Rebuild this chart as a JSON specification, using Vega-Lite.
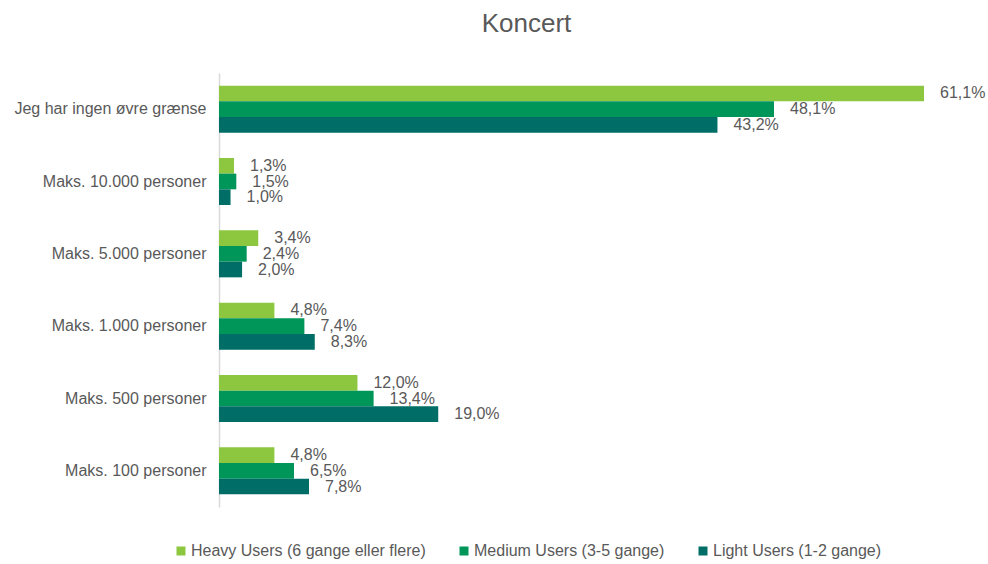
{
  "$schema": "https://vega.github.io/schema/vega-lite/v6.json",
  "width": 705,
  "height": 434,
  "autosize": {"type": "none"},
  "padding": {"left": 219, "top": 73, "right": 64, "bottom": 57},
  "background": "white",
  "title": {"text": "Koncert", "fontSize": 26, "font": "Liberation Sans", "fontWeight": "normal", "color": "#595959", "anchor": "middle", "dx": -45, "offset": 36},
  "data": {"values": [
    {"kategori": "Jeg har ingen øvre grænse", "gruppe": "Heavy Users (6 gange eller flere)", "andel": 0.611},
    {"kategori": "Jeg har ingen øvre grænse", "gruppe": "Medium Users (3-5 gange)", "andel": 0.481},
    {"kategori": "Jeg har ingen øvre grænse", "gruppe": "Light Users (1-2 gange)", "andel": 0.432},
    {"kategori": "Maks. 10.000 personer", "gruppe": "Heavy Users (6 gange eller flere)", "andel": 0.013},
    {"kategori": "Maks. 10.000 personer", "gruppe": "Medium Users (3-5 gange)", "andel": 0.015},
    {"kategori": "Maks. 10.000 personer", "gruppe": "Light Users (1-2 gange)", "andel": 0.010},
    {"kategori": "Maks. 5.000 personer", "gruppe": "Heavy Users (6 gange eller flere)", "andel": 0.034},
    {"kategori": "Maks. 5.000 personer", "gruppe": "Medium Users (3-5 gange)", "andel": 0.024},
    {"kategori": "Maks. 5.000 personer", "gruppe": "Light Users (1-2 gange)", "andel": 0.020},
    {"kategori": "Maks. 1.000 personer", "gruppe": "Heavy Users (6 gange eller flere)", "andel": 0.048},
    {"kategori": "Maks. 1.000 personer", "gruppe": "Medium Users (3-5 gange)", "andel": 0.074},
    {"kategori": "Maks. 1.000 personer", "gruppe": "Light Users (1-2 gange)", "andel": 0.083},
    {"kategori": "Maks. 500 personer", "gruppe": "Heavy Users (6 gange eller flere)", "andel": 0.120},
    {"kategori": "Maks. 500 personer", "gruppe": "Medium Users (3-5 gange)", "andel": 0.134},
    {"kategori": "Maks. 500 personer", "gruppe": "Light Users (1-2 gange)", "andel": 0.190},
    {"kategori": "Maks. 100 personer", "gruppe": "Heavy Users (6 gange eller flere)", "andel": 0.048},
    {"kategori": "Maks. 100 personer", "gruppe": "Medium Users (3-5 gange)", "andel": 0.065},
    {"kategori": "Maks. 100 personer", "gruppe": "Light Users (1-2 gange)", "andel": 0.078}
  ]},
  "encoding": {
    "y": {
      "field": "kategori", "type": "nominal", "sort": null,
      "scale": {"paddingInner": 0.35, "paddingOuter": 0.175},
      "axis": {"title": null, "ticks": false, "domainColor": "#d9d9d9", "domainWidth": 1.5, "labelFontSize": 16, "labelColor": "#595959", "labelFont": "Liberation Sans", "labelPadding": 13, "labelLimit": 300}
    },
    "yOffset": {
      "field": "gruppe", "type": "nominal",
      "sort": ["Heavy Users (6 gange eller flere)", "Medium Users (3-5 gange)", "Light Users (1-2 gange)"],
      "scale": {"paddingInner": 0, "paddingOuter": 0}
    },
    "x": {
      "field": "andel", "type": "quantitative",
      "scale": {"domain": [0, 0.611], "nice": false, "zero": true},
      "axis": null
    }
  },
  "layer": [
    {
      "mark": {"type": "bar"},
      "encoding": {
        "color": {
          "field": "gruppe", "type": "nominal",
          "sort": ["Heavy Users (6 gange eller flere)", "Medium Users (3-5 gange)", "Light Users (1-2 gange)"],
          "scale": {"domain": ["Heavy Users (6 gange eller flere)", "Medium Users (3-5 gange)", "Light Users (1-2 gange)"], "range": ["#8DC63F", "#00965A", "#006E66"]},
          "legend": {
            "title": null, "orient": "none", "direction": "horizontal", "legendX": -46, "legendY": 470,
            "symbolType": "square", "symbolSize": 81, "symbolStrokeWidth": 0,
            "labelFontSize": 16, "labelColor": "#595959", "labelFont": "Liberation Sans",
            "labelOffset": 2, "columnPadding": 30, "labelLimit": 400
          }
        }
      }
    },
    {
      "mark": {"type": "text", "align": "left", "baseline": "middle", "dx": 16, "fontSize": 16, "font": "Liberation Sans", "color": "#595959"},
      "encoding": {
        "text": {"field": "andel", "type": "quantitative", "format": ".1%"}
      }
    }
  ],
  "config": {
    "view": {"stroke": null},
    "locale": {"number": {"decimal": ",", "thousands": ".", "grouping": [3], "currency": ["", " kr."]}}
  }
}
